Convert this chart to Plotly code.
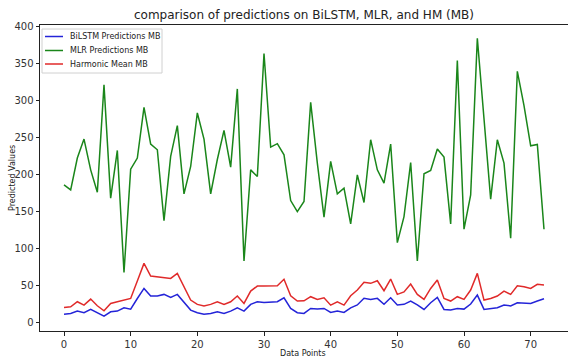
import plotly.graph_objects as go

# Predictions per data point (MB)
data_points = list(range(73))

bilstm_mb = [
    10.8, 11.8, 14.9, 12.7, 17.2, 12.7, 8.1, 14.0, 14.9, 19.4,
    17.6, 32.0, 45.6, 35.3, 35.3, 37.5, 33.4, 37.5, 27.6, 16.3,
    12.7, 10.8, 11.8, 14.0, 11.8, 14.9, 19.4, 14.9, 24.0, 27.6,
    26.7, 27.6, 27.6, 33.0, 18.5, 12.7, 11.8, 18.5, 17.6, 18.5,
    13.1, 14.9, 13.1, 19.4, 23.2, 32.2, 30.8, 32.2, 24.1, 33.0,
    23.2, 24.1, 28.6, 23.2, 17.2, 26.2, 33.5, 17.2, 16.3, 18.5,
    17.6, 24.5, 36.6, 17.2, 18.5, 19.4, 23.2, 22.0, 26.2, 26.2,
    25.3, 28.6, 31.7,
]

mlr_mb = [
    185.8, 179.0, 222.0, 247.7, 206.0, 175.8, 321.0, 167.7, 232.3, 67.3,
    207.0, 222.0, 290.6, 240.9, 233.2, 137.4, 224.2, 265.8, 173.6, 210.6,
    283.0, 247.7, 173.6, 220.0, 259.4, 209.7, 315.5, 82.7, 206.0, 197.0,
    363.4, 236.8, 241.4, 226.4, 164.5, 149.6, 163.2, 297.4, 215.2, 142.0,
    217.4, 173.6, 181.2, 132.9, 199.3, 161.8, 246.8, 206.0, 188.0, 240.9,
    107.6, 142.8, 216.0, 82.7, 200.7, 205.2, 234.2, 223.3, 132.9, 353.9,
    125.7, 172.2, 384.0, 273.0, 166.4, 246.8, 215.2, 113.5, 339.4, 292.9,
    238.6, 240.4, 125.7,
]

harmonic_mb = [
    19.9, 20.8, 27.6, 23.0, 31.2, 22.1, 15.4, 25.3, 27.6, 29.8,
    32.0, 55.6, 79.5, 62.4, 61.5, 60.1, 59.2, 66.0, 47.9, 29.8,
    24.0, 21.7, 24.0, 27.6, 24.0, 27.6, 35.3, 25.3, 42.0, 48.8,
    48.8, 48.8, 49.3, 57.9, 35.7, 28.5, 28.9, 34.4, 30.7, 33.0,
    23.0, 27.6, 23.0, 35.7, 43.4, 53.8, 52.5, 56.0, 42.5, 58.3,
    37.5, 40.9, 51.6, 37.5, 30.7, 45.6, 56.9, 32.0, 28.5, 34.4,
    30.7, 43.4, 66.0, 29.8, 32.0, 35.3, 42.0, 37.5, 49.3, 47.9,
    45.6, 51.1, 50.2,
]

series_names = ["BiLSTM Predictions MB", "MLR Predictions MB", "Harmonic Mean MB"]
series_values = [bilstm_mb, mlr_mb, harmonic_mb]
series_colors = ["#2424d8", "#1a861a", "#e02a2a"]

font_family = "DejaVu Sans, Liberation Sans, sans-serif"

W, H = 568, 360
M_L, M_R, M_T, M_B = 40, 0, 25, 29
plot_w = W - M_L - M_R
plot_h = H - M_T - M_B


def px_x(px):
    """Horizontal pixel position -> paper coordinate."""
    return (px - M_L) / plot_w


def px_y(py):
    """Vertical pixel position (from top) -> paper coordinate."""
    return (H - M_B - py) / plot_h


fig = go.Figure()
for name, values, color in zip(series_names, series_values, series_colors):
    fig.add_trace(go.Scatter(
        x=data_points, y=values, mode="lines", name=name,
        line=dict(color=color, width=1.5),
    ))

axis_common = dict(
    showgrid=False, zeroline=False,
    showline=True, linecolor="#222", linewidth=1, mirror=True,
    ticks="outside", ticklen=3.5, tickcolor="#222", tickwidth=1,
    tickfont=dict(family=font_family, size=10, color="#333"),
)

# Legend box drawn in the upper-left corner of the plot
shapes = [dict(
    type="rect", xref="paper", yref="paper",
    x0=px_x(42), x1=px_x(162), y0=px_y(73), y1=px_y(29),
    line=dict(color="#d0d0d0", width=1), fillcolor="rgba(255,255,255,0.85)",
    layer="above",
)]
annotations = []
legend_rows = [36.5, 50.5, 64]
for row_y, name, color in zip(legend_rows, series_names, series_colors):
    shapes.append(dict(
        type="line", xref="paper", yref="paper",
        x0=px_x(45), x1=px_x(63), y0=px_y(row_y), y1=px_y(row_y),
        line=dict(color=color, width=1.5), layer="above",
    ))
    annotations.append(dict(
        text=name, xref="paper", yref="paper", x=px_x(68), y=px_y(row_y),
        xanchor="left", yanchor="middle", showarrow=False,
        font=dict(family=font_family, size=8, color="#222"),
    ))

# Axis titles
annotations.append(dict(
    text="Data Points", xref="paper", yref="paper",
    x=px_x(303), y=px_y(353), xanchor="center", yanchor="middle",
    showarrow=False, font=dict(family=font_family, size=8, color="#222"),
))
annotations.append(dict(
    text="Predicted Values", textangle=-90, xref="paper", yref="paper",
    x=px_x(12), y=px_y(178), xanchor="center", yanchor="middle",
    showarrow=False, font=dict(family=font_family, size=8, color="#222"),
))

fig.update_layout(
    width=W, height=H,
    margin=dict(l=M_L, r=M_R, t=M_T, b=M_B),
    paper_bgcolor="white", plot_bgcolor="white",
    font=dict(family=font_family, color="#222"),
    title=dict(
        text="comparison of predictions on BiLSTM, MLR, and HM (MB)",
        x=0.5, xref="paper", y=1 - 15 / H, yref="container",
        xanchor="center", yanchor="middle",
        font=dict(family=font_family, size=12, color="#222"),
    ),
    xaxis=dict(range=[-3.6, 75.6], tickvals=[0, 10, 20, 30, 40, 50, 60, 70],
               **axis_common),
    yaxis=dict(range=[-12, 402], tickvals=[0, 50, 100, 150, 200, 250, 300, 350, 400],
               **axis_common),
    showlegend=False,
    shapes=shapes,
    annotations=annotations,
)

fig.write_html("out.html")
